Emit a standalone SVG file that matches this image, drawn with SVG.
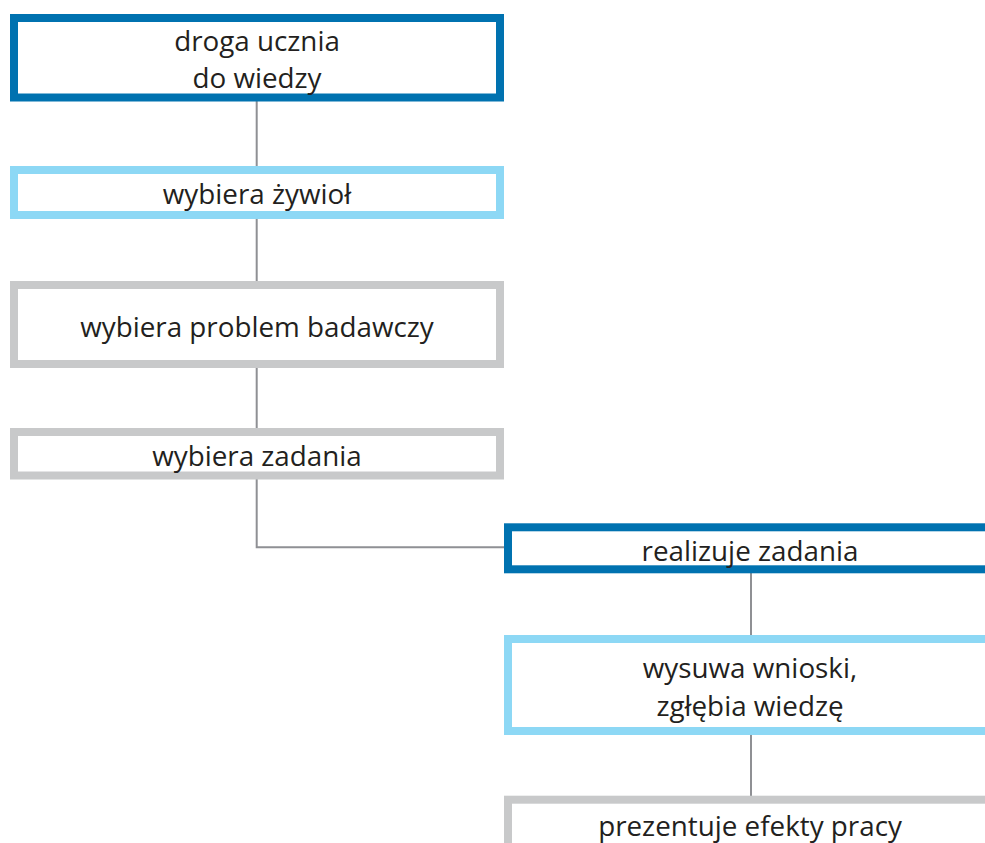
<svg xmlns="http://www.w3.org/2000/svg" width="985" height="843" viewBox="0 0 985 843">
<style>
.box{fill:#fff;stroke-width:8}
.dk{stroke:#0072B0}
.lt{stroke:#8DD8F5}
.gr{stroke:#C8C9CA}
.t{font-family:"Open Sans","Liberation Sans",sans-serif;font-size:27.8px;fill:#231F20;text-anchor:middle}
.c{fill:none;stroke:#8F9094;stroke-width:2}
</style>
<rect width="985" height="843" fill="#fff"/>
<g id="connectors">
<path class="c" d="M256.7 101V166M256.7 219V281M256.7 368V428M256.7 479V547.3H504M751 573V635M751 735V796"/>
</g>
<g id="n1"><rect class="box dk" x="14" y="18" width="486" height="79.5"/><text class="t" x="257" y="51">droga ucznia</text><text class="t" x="257" y="87.5">do wiedzy</text></g>
<g id="n2"><rect class="box lt" x="14" y="170" width="486" height="45"/><text class="t" x="257" y="204">wybiera żywioł</text></g>
<g id="n3"><rect class="box gr" x="14" y="285" width="486" height="79"/><text class="t" x="257" y="337">wybiera problem badawczy</text></g>
<g id="n4"><rect class="box gr" x="14" y="432" width="486" height="43.5"/><text class="t" x="257" y="465.5">wybiera zadania</text></g>
<g id="n5"><rect class="box dk" x="508" y="527.3" width="488" height="42"/><text class="t" x="750" y="560.5">realizuje zadania</text></g>
<g id="n6"><rect class="box lt" x="508" y="639" width="488" height="92"/><text class="t" x="750" y="677.5">wysuwa wnioski,</text><text class="t" x="750" y="715.5">zgłębia wiedzę</text></g>
<g id="n7"><rect class="box gr" x="508" y="799.7" width="488" height="80"/><text class="t" x="750" y="835.5">prezentuje efekty pracy</text></g>
</svg>
